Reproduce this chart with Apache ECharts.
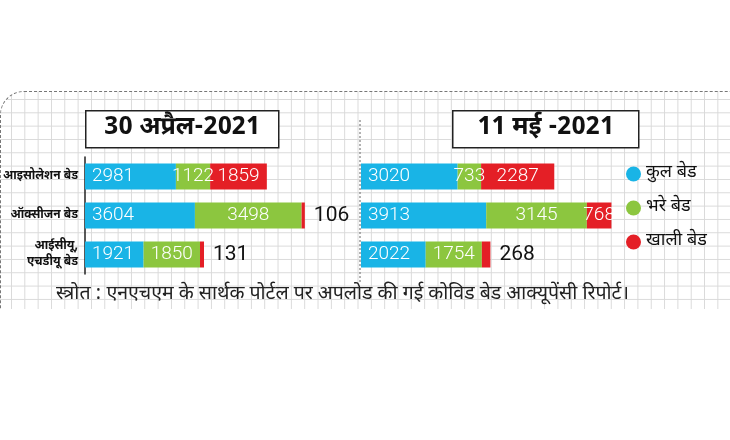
<!DOCTYPE html>
<html>
<head>
<meta charset="utf-8">
<script src="https://cdn.jsdelivr.net/npm/echarts@6/dist/echarts.min.js"></script>
<style>
  html, body { margin: 0; padding: 0; background: #fff; }
  #wrap { position: relative; width: 730px; height: 440px; overflow: hidden; }
  #paper {
    position: absolute; left: 0; top: 91px; width: 760px; height: 217px;
    border-top: 1px dashed #777; border-left: 1px dashed #777;
    border-top-left-radius: 24px;
    background-image:
      linear-gradient(to right, #d9d9d9 1px, transparent 1px),
      linear-gradient(to bottom, #d9d9d9 1px, transparent 1px);
    background-size: 13.33px 13.33px;
    background-position: 10px 7px;
  }
  #chart { position: absolute; left: 0; top: 0; width: 730px; height: 440px; }
</style>
</head>
<body>
<div id="wrap">
  <div id="paper"></div>
  <div id="chart"></div>
</div>
<script>
// आंकड़े
const categories = ["आइसोलेशन बेड", "ऑक्सीजन बेड", "आईसीयू,\nएचडीयू बेड"];
const seriesNames = ["कुल बेड", "भरे बेड", "खाली बेड"];
const panelTitles = ["30 अप्रैल-2021", "11 मई -2021"];
const totalApr = [2981, 3604, 1921];
const filledApr = [1122, 3498, 1850];
const emptyApr = [1859, 106, 131];
const totalMay = [3020, 3913, 2022];
const filledMay = [733, 3145, 1754];
const emptyMay = [2287, 768, 268];
const sourceText = "स्त्रोत : एनएचएम के सार्थक पोर्टल पर अपलोड की गई कोविड बेड आक्यूपेंसी रिपोर्ट।";

const colors = ["#19b4e6", "#8cc63f", "#e41f26"];
const numFont = '"Roboto", sans-serif';
const hiFont = '"Noto Sans Devanagari", "Lohit Devanagari", "FreeSans", "Noto Sans", sans-serif';

let chart = echarts.init(document.getElementById("chart"));

// खाली बेड छोटे हों तो लेबल बाहर काला
function emptyData(arr) {
  return arr.map(v => v < 300 ? {
    value: v,
    label: { position: "right", distance: 9, color: "#111", fontWeight: 400, fontSize: 21 }
  } : v);
}

function panelSeries(idx, total, filled, empty) {
  let base = {
    type: "bar",
    stack: "s" + idx,
    xAxisIndex: idx,
    yAxisIndex: idx,
    barWidth: 26,
    silent: true
  };
  let lbl = { show: true, color: "#fff", fontFamily: numFont, fontWeight: 300, fontSize: 19 };
  return [
    Object.assign({}, base, {
      name: seriesNames[0], data: total,
      itemStyle: { color: colors[0] },
      label: Object.assign({}, lbl, { position: "insideLeft", distance: 7 })
    }),
    Object.assign({}, base, {
      name: seriesNames[1], data: filled,
      itemStyle: { color: colors[1] },
      label: Object.assign({}, lbl, { position: "inside" })
    }),
    Object.assign({}, base, {
      name: seriesNames[2], data: emptyData(empty),
      itemStyle: { color: colors[2] },
      label: Object.assign({}, lbl, { position: "inside" })
    })
  ];
}

function titleBox(x, w, text) {
  return {
    type: "group",
    left: x, top: 110,
    children: [{
      type: "rect",
      shape: { x: 0, y: 0, width: w, height: 37 },
      style: { fill: "#fff", stroke: "#222", lineWidth: 1.5 }
    }, {
      type: "text",
      style: {
        x: w / 2, y: 19, text: text, fill: "#111",
        font: "bold 25px " + hiFont,
        textAlign: "center", textVerticalAlign: "middle"
      }
    }]
  };
}

let option = {
  animation: false,
  legend: {
    data: seriesNames,
    orient: "vertical",
    left: 621, top: 160,
    icon: "circle",
    itemWidth: 15, itemHeight: 15,
    itemGap: 16,
    textStyle: { color: "#111", fontSize: 18, fontFamily: hiFont }
  },
  grid: [
    { left: 85, top: 157, width: 244, height: 117, outerBoundsMode: "none", containLabel: false },
    { left: 361, top: 157, width: 256, height: 117, outerBoundsMode: "none", containLabel: false }
  ],
  xAxis: [
    { type: "value", gridIndex: 0, min: 0, max: 8000, show: false },
    { type: "value", gridIndex: 1, min: 0, max: 8000, show: false }
  ],
  yAxis: [{
    type: "category", gridIndex: 0, inverse: true, data: categories,
    axisTick: { show: false },
    axisLine: { show: true, lineStyle: { color: "#222", width: 1.5 } },
    axisLabel: {
      color: "#111", fontWeight: "bold", fontSize: 12, margin: 7,
      lineHeight: 16, fontFamily: hiFont, align: "right"
    }
  }, {
    type: "category", gridIndex: 1, inverse: true, data: categories,
    axisTick: { show: false }, axisLine: { show: false }, axisLabel: { show: false }
  }],
  graphic: [
    titleBox(85, 193, panelTitles[0]),
    titleBox(452, 186, panelTitles[1]),
    {
      type: "line",
      shape: { x1: 360, y1: 120, x2: 360, y2: 283 },
      style: { stroke: "#666", lineWidth: 1, lineDash: [2, 2] }
    },
    {
      type: "text",
      left: 56, top: 285,
      style: { text: sourceText, fill: "#222", font: "19.5px " + hiFont }
    }
  ],
  series: [].concat(
    panelSeries(0, totalApr, filledApr, emptyApr),
    panelSeries(1, totalMay, filledMay, emptyMay)
  )
};
chart.setOption(option, true);
</script>
</body>
</html>
